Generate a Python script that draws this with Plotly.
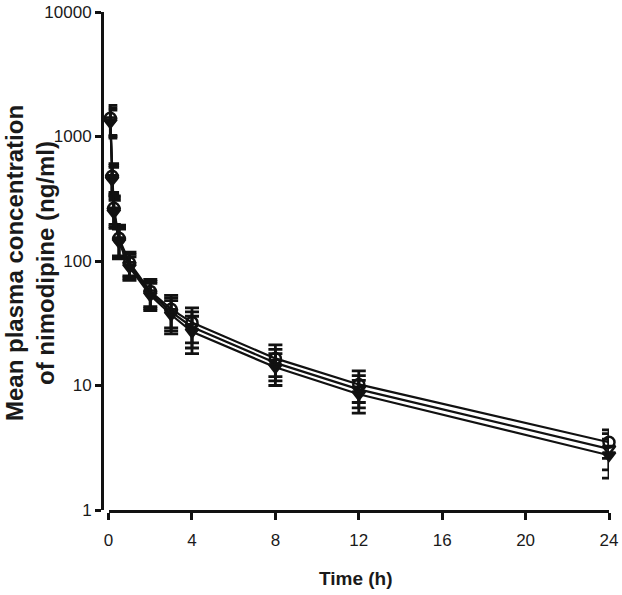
import plotly.graph_objects as go

# Sampling times (h)
time_h = [0.083, 0.167, 0.25, 0.5, 1, 2, 3, 4, 8, 12, 24]

# Three formulations: mean and SD (ng/ml)
mean_a = [1400, 480, 265, 152, 97, 57, 41, 32, 16.5, 10.2, 3.5]
sd_a   = [380, 125, 68, 42, 21, 14, 12, 10, 4.7, 2.9, 0.9]
mean_b = [1350, 465, 255, 147, 93, 55, 39, 29.5, 15.2, 9.3, 3.1]
sd_b   = [350, 120, 66, 40, 20, 13.5, 11.5, 9.5, 4.3, 2.7, 1.0]
mean_c = [1300, 450, 245, 142, 89, 53, 37, 27, 14.0, 8.5, 2.75]
sd_c   = [330, 115, 62, 38, 19, 13, 11, 9, 4.0, 2.5, 0.95]

x_ticks = [0, 4, 8, 12, 16, 20, 24]
y_ticks = [1, 10, 100, 1000, 10000]
y_tick_text = ["1", "10", "100", "1000", "10000"]

series = [
    (mean_a, sd_a, "circle-open"),
    (mean_b, sd_b, "triangle-down-open"),
    (mean_c, sd_c, "triangle-down"),
]

INK = "#111111"

fig = go.Figure()
for m, s, sym in series:
    fig.add_trace(go.Scatter(
        x=time_h, y=m,
        mode="lines+markers",
        line=dict(color=INK, width=2.2),
        marker=dict(symbol=sym, size=11, color=INK,
                    line=dict(color=INK, width=2.5)),
        error_y=dict(type="data", array=s, visible=True,
                     color=INK, thickness=2.8, width=7),
        cliponaxis=False,
        showlegend=False,
    ))

tick_font = dict(family="Liberation Sans Narrow, Arial Narrow, Liberation Sans, Arial",
                 size=17, color="#1a1a1a")

fig.update_layout(
    width=622, height=595,
    margin=dict(l=102, r=13, t=12, b=85),
    paper_bgcolor="white", plot_bgcolor="white",
    xaxis=dict(
        domain=[0.013, 1],
        range=[0, 24],
        tickvals=x_ticks,
        ticks="outside", ticklen=7, tickwidth=3, tickcolor=INK,
        showline=True, linecolor=INK, linewidth=3,
        showgrid=False, zeroline=False,
        tickfont=tick_font,
        ticklabelstandoff=6,
        automargin=False,
    ),
    yaxis=dict(
        type="log",
        range=[0, 4],
        tickvals=y_ticks, ticktext=y_tick_text,
        anchor="free", position=0,
        ticks="outside", ticklen=6, tickwidth=2.5, tickcolor=INK,
        showline=True, linecolor=INK, linewidth=3,
        showgrid=False, zeroline=False,
        tickfont=tick_font,
        automargin=False,
    ),
    annotations=[
        dict(text="<b>Time (h)</b>", xref="paper", yref="paper",
             x=0.5, y=0, xanchor="center", yanchor="middle",
             yshift=-68, showarrow=False,
             font=dict(family="Liberation Sans Narrow, Arial Narrow, Liberation Sans, Arial",
                       size=19, color="#1a1a1a")),
        dict(text="<b>Mean plasma concentration<br>of nimodipine (ng/ml)</b>",
             xref="paper", yref="paper", x=0, y=0.5,
             xanchor="center", yanchor="middle", textangle=-90,
             xshift=-72, yshift=-2, showarrow=False,
             font=dict(family="Liberation Sans, Arial", size=24, color="#1a1a1a")),
    ],
)

fig.write_html("out.html",
               config={"displayModeBar": False},
               post_script="document.body.style.margin='0px';document.body.style.overflow='hidden';")
